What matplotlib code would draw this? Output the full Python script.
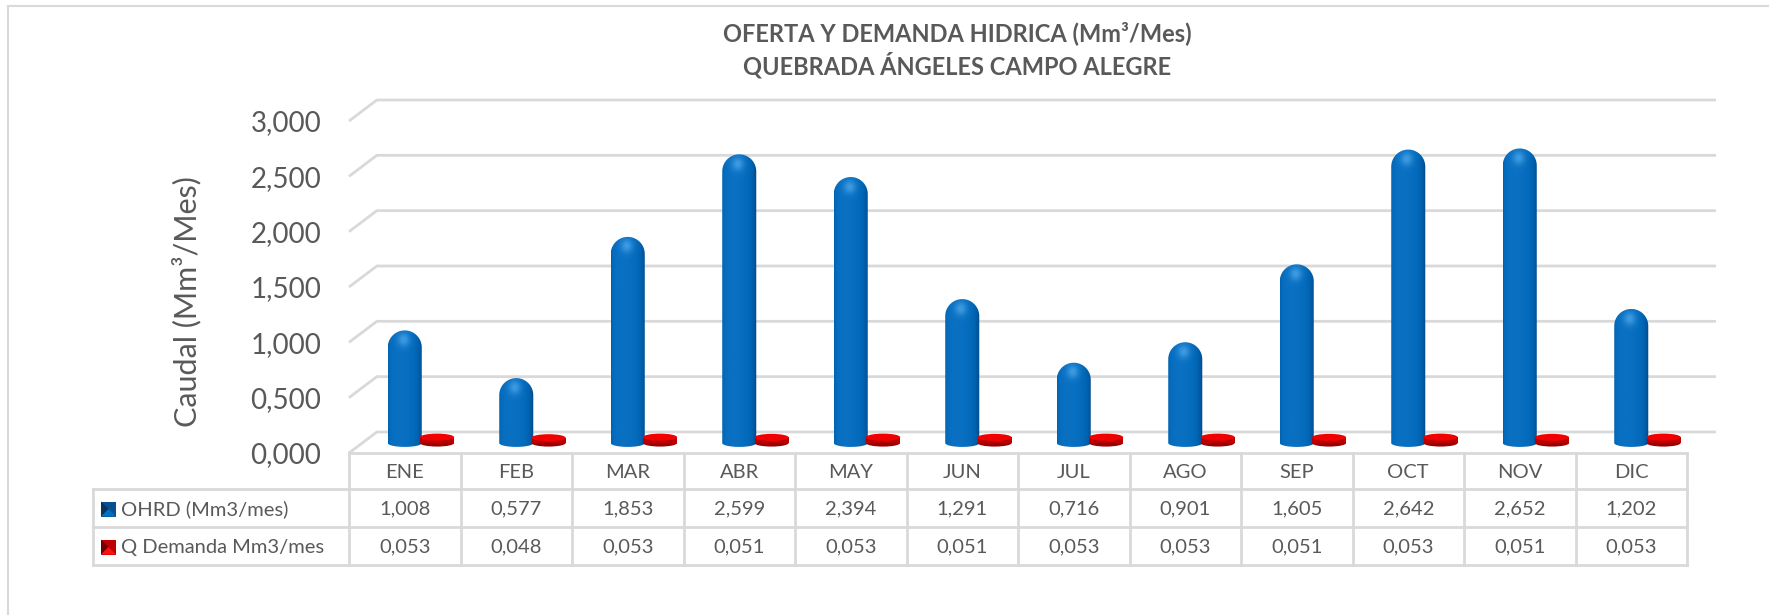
import numpy as np
import matplotlib.pyplot as plt
from matplotlib.path import Path
from matplotlib.patches import PathPatch, Ellipse, Rectangle, Polygon
from matplotlib.colors import LinearSegmentedColormap, to_rgb

plt.rcParams['font.family'] = ['Lato', 'DejaVu Sans']

# datos
meses = ['ENE', 'FEB', 'MAR', 'ABR', 'MAY', 'JUN', 'JUL', 'AGO', 'SEP', 'OCT', 'NOV', 'DIC']
ohrd = [1.008, 0.577, 1.853, 2.599, 2.394, 1.291, 0.716, 0.901, 1.605, 2.642, 2.652, 1.202]
demanda = [0.053, 0.048, 0.053, 0.051, 0.053, 0.051, 0.053, 0.053, 0.051, 0.053, 0.051, 0.053]
series = ['OHRD (Mm3/mes)', 'Q Demanda Mm3/mes']
yticks = [0.0, 0.5, 1.0, 1.5, 2.0, 2.5, 3.0]
titulo = 'OFERTA Y DEMANDA HIDRICA (Mm³/Mes)\nQUEBRADA ÁNGELES CAMPO ALEGRE'
ylabel = 'Caudal (Mm³/Mes)'

gris = '#595959'
linea = '#d9d9d9'


def fmt(v):
    return f'{v:,.3f}'.replace('.', ',')


W, H = 1769, 615
fig = plt.figure(figsize=(W / 100, H / 100), dpi=100)

# fondo en pixeles para marco y tabla
bg = fig.add_axes([0, 0, 1, 1], zorder=0)
bg.set_xlim(0, W)
bg.set_ylim(H, 0)
bg.axis('off')

# area de grafico
x0px, x1px, ytop, ybot = 349, 1716, 100, 453
colw = 111.5
ax = fig.add_axes([x0px / W, 1 - ybot / H, (x1px - x0px) / W, (ybot - ytop) / H], zorder=1)
ax.set_facecolor('none')
xmax = (x1px - x0px) / colw
depth = 0.19  # desplazamiento 3D en y
dx = 0.25     # desplazamiento 3D en x
ppu_x = colw
ppu_y = (ybot - ytop) / (max(yticks) + depth)

for v in yticks:
    ax.plot([0, dx, xmax], [v - depth, v, v], color=linea, lw=2, zorder=1,
            solid_capstyle='butt', clip_on=False)

cmap_azul = LinearSegmentedColormap.from_list('az', ['#07325c', '#00529a', '#0066b6', '#0a70c2'])


def cilindro(xc, y0, y1, w, z):
    rx = w / 2
    ry = rx * ppu_x / ppu_y
    e = 0.035
    t = np.linspace(0, np.pi, 40)
    cap = np.column_stack([xc + rx * np.cos(t), (y1 - ry) + ry * np.sin(t)])
    tb = np.linspace(np.pi, 2 * np.pi, 40)
    bot = np.column_stack([xc + rx * np.cos(tb), y0 + e * np.sin(tb)])
    verts = np.vstack([[xc + rx, y0], cap, bot, [xc + rx, y0]])
    codes = [Path.MOVETO] + [Path.LINETO] * (len(verts) - 2) + [Path.CLOSEPOLY]
    patch = PathPatch(Path(verts, codes), fc='none', ec='none', zorder=z)
    ax.add_patch(patch)
    nx, ny = 60, 300
    X = np.linspace(xc - rx, xc + rx, nx)
    Y = np.linspace(y0 - e, y1, ny)
    u = np.clip((X - xc) / rx, -0.999, 0.999)
    inten = np.clip(0.3 + 0.7 * np.cos(np.arcsin(u) + 0.35), 0, 1)
    img = cmap_azul(np.tile(inten, (ny, 1)))[:, :, :3]
    XX, YY = np.meshgrid(X, Y)
    hl = np.exp(-(((XX - (xc - 0.1 * rx)) / (0.35 * rx)) ** 2 + ((YY - (y1 - 0.55 * ry)) / (0.4 * ry)) ** 2))
    luz = np.array(to_rgb('#4aa6ea'))
    img = img * (1 - hl[..., None] * 0.8) + luz * hl[..., None] * 0.8
    im = ax.imshow(img, extent=[xc - rx, xc + rx, y0 - e, y1], origin='lower',
                   aspect='auto', interpolation='bilinear', zorder=z)
    im.set_clip_path(patch)


def disco(xc, y0, h, w, z):
    ry = 0.032
    ax.add_patch(Ellipse((xc, y0), w, 2 * ry, fc='#9a0000', ec='none', zorder=z))
    ax.add_patch(Rectangle((xc - w / 2, y0), w, h, fc='#b80000', ec='none', zorder=z))
    ax.add_patch(Ellipse((xc, y0 + h), w, 2 * ry, fc='#f00000', ec='none', zorder=z))


base = -0.1
wbar = 0.305
for i, (a, d) in enumerate(zip(ohrd, demanda)):
    cilindro(i + 0.5, base, a - 0.09, wbar, 3)
    disco(i + 0.79, base, d, wbar, 4)

ax.set_xlim(0, xmax)
ax.set_ylim(-depth, max(yticks))
ax.set_xticks([])
ax.set_yticks([v - depth for v in yticks], [fmt(v) for v in yticks])
ax.tick_params(axis='y', length=0, pad=20, labelsize=20, labelcolor=gris)
for s in ax.spines.values():
    s.set_visible(False)
ax.set_ylabel(ylabel, fontsize=22, color=gris)
ax.yaxis.set_label_coords(-0.108, 0.43)

# titulo
fig.text(957 / W, 1 - 50 / H, titulo, ha='center', va='center', fontsize=17,
         fontweight='bold', color=gris, linespacing=1.3)

# marco del grafico
bg.plot([8, W], [6, 6], color=linea, lw=1.5)
bg.plot([8, 8], [6, H], color=linea, lw=1.5)

# tabla de datos
tx0, tleft = x0px, 93
rows = [453, 489, 527, 565]
tright = tx0 + colw * len(meses)
bg.plot([tx0, tright], [rows[0], rows[0]], color=linea, lw=2)
for r in rows[1:]:
    bg.plot([tleft, tright], [r, r], color=linea, lw=2)
for i in range(len(meses) + 1):
    xx = tx0 + colw * i
    bg.plot([xx, xx], [rows[0], rows[-1]], color=linea, lw=2)
bg.plot([tleft, tleft], [rows[1], rows[-1]], color=linea, lw=2)

fs = 14.5
for i, m in enumerate(meses):
    xc = tx0 + colw * (i + 0.5)
    bg.text(xc, (rows[0] + rows[1]) / 2 + 1, m, ha='center', va='center', fontsize=fs, color=gris)
    bg.text(xc, (rows[1] + rows[2]) / 2 + 1, fmt(ohrd[i]), ha='center', va='center', fontsize=fs, color=gris)
    bg.text(xc, (rows[2] + rows[3]) / 2 + 1, fmt(demanda[i]), ha='center', va='center', fontsize=fs, color=gris)

claves = [('#0a4f8f', '#0070c0', '#063560'), ('#c00000', '#ff1010', '#700000')]
for k, (lab, (c_mid, c_light, c_dark)) in enumerate(zip(series, claves)):
    yc = (rows[k + 1] + rows[k + 2]) / 2 + 1
    kx, s = 101, 15
    ky = yc - s / 2
    bg.add_patch(Rectangle((kx, ky), s, s, fc=c_mid, ec='none'))
    bg.add_patch(Polygon([[kx, ky], [kx + s / 2, ky + s / 2], [kx, ky + s]], fc=c_dark, ec='none'))
    bg.add_patch(Polygon([[kx, ky + s], [kx + s / 2, ky + s / 2], [kx + s, ky + s]], fc=c_light, ec='none'))
    bg.text(121, yc, lab, ha='left', va='center', fontsize=fs, color=gris)

fig.savefig('out.png', dpi=100)
